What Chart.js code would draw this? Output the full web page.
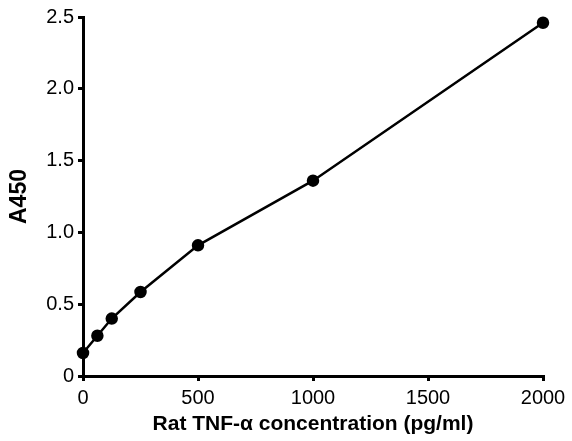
<!DOCTYPE html>
<html>
<head>
<meta charset="utf-8">
<script src="https://cdn.jsdelivr.net/npm/chart.js@4"></script>
<style>
  html, body { margin: 0; padding: 0; background: #fff; }
  #wrap { width: 572px; height: 441px; position: relative; }
</style>
</head>
<body>
<div id="wrap"><canvas id="chart"></canvas></div>
<script>
// ---- Data ----
const concentrations = [0, 62.5, 125, 250, 500, 1000, 2000];
const absorbance     = [0.16, 0.28, 0.40, 0.585, 0.91, 1.36, 2.46];
const xTicks = [0, 500, 1000, 1500, 2000];
const yTicks = [0, 0.5, 1.0, 1.5, 2.0, 2.5];

const points = concentrations.map((c, i) => ({ x: c, y: absorbance[i] }));
const FONT = "'Liberation Sans', Arial, sans-serif";

new Chart(document.getElementById('chart'), {
  type: 'scatter',
  data: {
    datasets: [{
      data: points,
      showLine: true,
      borderColor: '#000',
      backgroundColor: '#000',
      borderWidth: 2.5,
      pointRadius: 5,
      pointHoverRadius: 5,
      tension: 0,
      clip: false,
    }],
  },
  options: {
    responsive: true,
    maintainAspectRatio: false,
    animation: false,
    devicePixelRatio: 1,
    layout: { padding: { top: 17, right: 29, left: 0, bottom: 0 } },
    plugins: { legend: { display: false }, tooltip: { enabled: false } },
    scales: {
      x: {
        type: 'linear',
        min: 0,
        max: 2000,
        afterBuildTicks: axis => { axis.ticks = xTicks.map(v => ({ value: v })); },
        afterFit: axis => { axis.height = 65; },
        ticks: { color: '#000', font: { family: FONT, size: 20 }, padding: 5, maxRotation: 0,
                 callback: v => String(v) },
        grid: { display: true, drawOnChartArea: false, drawTicks: true, tickLength: 5, color: '#000', lineWidth: 3 },
        border: { display: true, color: '#000', width: 3 },
        title: { display: true, text: 'Rat TNF-α concentration (pg/ml)', color: '#000',
                 font: { family: FONT, size: 21, weight: 'bold' }, padding: { top: 2 } },
      },
      y: {
        type: 'linear',
        min: 0,
        max: 2.5,
        afterBuildTicks: axis => { axis.ticks = yTicks.map(v => ({ value: v })); },
        afterFit: axis => { axis.width = 83; },
        ticks: {
          color: '#000', font: { family: FONT, size: 20 }, padding: 4,
          callback: v => v === 0 ? '0' : v.toFixed(1),
        },
        grid: { display: true, drawOnChartArea: false, drawTicks: true, tickLength: 5, color: '#000', lineWidth: 3 },
        border: { display: true, color: '#000', width: 3 },
        title: { display: true, text: 'A450', color: '#000',
                 font: { family: FONT, size: 23, weight: 'bold' }, padding: { top: 6, bottom: 0 } },
      },
    },
  },
});
</script>
</body>
</html>
